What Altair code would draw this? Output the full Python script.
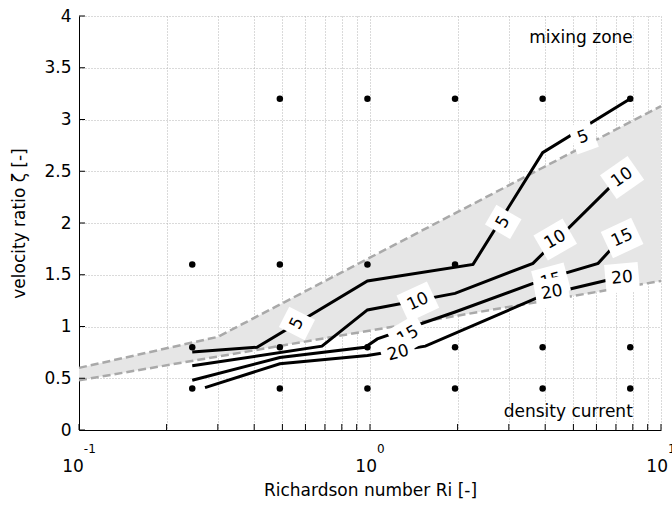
import altair as alt
import pandas as pd

FONT = "DejaVu Sans"
W, H = 582, 414

# simulation grid points
dot_ri = [0.49, 0.98, 1.96, 3.92, 7.84,
          0.245, 0.49, 0.98, 1.96,
          0.245, 0.49, 0.98, 1.96, 3.92, 7.84,
          0.245, 0.49, 0.98, 1.96, 3.92, 7.84]
dot_zeta = [3.2, 3.2, 3.2, 3.2, 3.2,
            1.6, 1.6, 1.6, 1.6,
            0.8, 0.8, 0.8, 0.8, 0.8, 0.8,
            0.4, 0.4, 0.4, 0.4, 0.4, 0.4]

# transition band (shaded, dashed edges)
band_ri = [0.1, 0.3, 10]
band_lower = [0.48, 0.71, 1.44]
band_upper = [0.6, 0.9, 3.13]

# contour lines
c5_ri = [0.245, 0.409, 0.98, 2.26, 3.92, 7.84]
c5_zeta = [0.754, 0.80, 1.44, 1.60, 2.68, 3.20]
c10_ri = [0.245, 0.684, 0.98, 1.96, 3.63, 7.84]
c10_zeta = [0.62, 0.81, 1.16, 1.32, 1.61, 2.54]
c15_ri = [0.245, 0.49, 0.962, 1.06, 1.96, 3.92, 6.08, 7.84]
c15_zeta = [0.48, 0.70, 0.80, 0.88, 1.14, 1.45, 1.61, 1.95]
c20_ri = [0.271, 0.49, 0.98, 1.55, 3.92, 7.84]
c20_zeta = [0.41, 0.64, 0.72, 0.81, 1.30, 1.50]
contours = {"5": (c5_ri, c5_zeta), "10": (c10_ri, c10_zeta),
            "15": (c15_ri, c15_zeta), "20": (c20_ri, c20_zeta)}

# contour labels
lab_text = ["5", "5", "5", "10", "10", "10", "15", "15", "15", "20", "20", "20"]
lab_ri = [5.40, 2.87, 0.561, 7.35, 4.33, 1.46, 7.35, 4.19, 1.35, 7.35, 4.22, 1.25]
lab_zeta = [2.83, 2.01, 1.03, 2.44, 1.84, 1.24, 1.855, 1.44, 0.915, 1.47, 1.33, 0.744]
lab_angle = [340, 300, 297, 325, 330, 335, 335, 345, 330, 355, 350, 345]
lab_tier = [1, 1, 1, 1, 1, 1, 1, 1, 1, 1, 2, 2]

# axes
x_vals = [0.1, 0.2, 0.3, 0.4, 0.5, 0.6, 0.7, 0.8, 0.9,
          1, 2, 3, 4, 5, 6, 7, 8, 9, 10]
y_vals = [0, 0.5, 1, 1.5, 2, 2.5, 3, 3.5, 4]
x_major = [0.1, 1, 10]
x_exp = ["-1", "0", "1"]

annot_text = ["mixing zone", "density current"]
annot_ri = [8, 8]
annot_zeta = [3.74, 0.13]

xs = alt.Scale(type="log", domain=[0.1, 10], nice=False)
ys = alt.Scale(domain=[0, 4], nice=False)
GRID = dict(grid=True, gridColor="#b5b5b5", gridDash=[1, 2], gridWidth=1,
            ticks=False, tickSize=0, domain=True, domainColor="#000000",
            domainWidth=1)
x_axis = alt.Axis(values=x_vals, labels=False,
                  title="Richardson number Ri [-]", titleFont=FONT, titleFontSize=17,
                  titleFontWeight="normal", titleColor="#000000",
                  titleBaseline="alphabetic", titleY=65, **GRID)
y_axis = alt.Axis(values=y_vals, labelExpr="'' + datum.value", labelFont=FONT,
                  labelFontSize=17, labelColor="#000000", labelPadding=8,
                  labelFlush=False, labelOverlap=False,
                  title="velocity ratio ζ [-]", titleFont=FONT, titleFontSize=17,
                  titleFontWeight="normal", titleColor="#000000", titleAngle=270,
                  titleX=-55, titleY=207, titleAlign="center",
                  titleBaseline="alphabetic", **GRID)

X = lambda f: alt.X(f, type="quantitative", scale=xs, axis=x_axis)
Y = lambda f: alt.Y(f, type="quantitative", scale=ys, axis=y_axis)

band_df = pd.DataFrame({"ri": band_ri, "lo": band_lower, "hi": band_upper})
band = alt.Chart(band_df).mark_area(color="#e6e6e6", opacity=1).encode(
    x=X("ri"), y=Y("lo"), y2="hi")

edge_df = pd.DataFrame({
    "ri": band_ri + band_ri,
    "zeta": band_lower + band_upper,
    "edge": ["lower"] * len(band_ri) + ["upper"] * len(band_ri),
})
edges = alt.Chart(edge_df).mark_line(color="#a9a9a9", strokeWidth=2.5,
                                     strokeDash=[8, 4]).encode(
    x=X("ri"), y=Y("zeta"), detail="edge:N")

dot_df = pd.DataFrame({"ri": dot_ri, "zeta": dot_zeta})
dots = alt.Chart(dot_df).mark_circle(size=42, color="#000000", opacity=1).encode(
    x=X("ri"), y=Y("zeta"))

rows = []
for lev, (rr, zz) in contours.items():
    for i, (r, z) in enumerate(zip(rr, zz)):
        rows.append({"level": lev, "ri": r, "zeta": z, "o": i})
cont_df = pd.DataFrame(rows)
lines = alt.Chart(cont_df).mark_line(color="#000000", strokeWidth=3).encode(
    x=X("ri"), y=Y("zeta"), detail="level:N", order="o:Q")

tick_df = pd.DataFrame({"v": x_vals})
bticks = alt.Chart(tick_df).mark_rule(color="#000000", strokeWidth=1).encode(
    x=X("v"), y=alt.value(H), y2=alt.value(H - 6))
ytick_df = pd.DataFrame({"v": y_vals})
lticks = alt.Chart(ytick_df).mark_rule(color="#000000", strokeWidth=1).encode(
    y=Y("v"), x=alt.value(0), x2=alt.value(6))


def box_shape(txt):
    w = 10.8 * len(txt) + 12.0
    h = 29.0
    s = max(w, h)
    a, b = w / s, h / s
    return f"M{-a:.3f},{-b:.3f}H{a:.3f}V{b:.3f}H{-a:.3f}Z", s * s


shapes = [box_shape(t) for t in lab_text]
lab_df = pd.DataFrame({
    "txt": lab_text, "ri": lab_ri, "zeta": lab_zeta, "ang": lab_angle,
    "tier": lab_tier,
    "shape": [s[0] for s in shapes], "bsize": [s[1] for s in shapes],
})

label_layers = []
for tier in (1, 2):
    base = alt.Chart(lab_df).transform_filter(alt.datum.tier == tier)
    boxes = base.mark_point(filled=True, color="#ffffff", opacity=1,
                            strokeWidth=0).encode(
        x=X("ri"), y=Y("zeta"),
        shape=alt.Shape("shape:N", scale=None),
        size=alt.Size("bsize:Q", scale=None),
        angle=alt.Angle("ang:Q", scale=None))
    texts = base.mark_text(font=FONT, fontSize=17, color="#000000",
                           align="center", baseline="middle").encode(
        x=X("ri"), y=Y("zeta"), text="txt:N",
        angle=alt.Angle("ang:Q", scale=None))
    label_layers += [boxes, texts]

ann_df = pd.DataFrame({"t": annot_text, "ri": annot_ri, "zeta": annot_zeta})
ann = alt.Chart(ann_df).mark_text(font=FONT, fontSize=17, color="#000000",
                                  align="right", baseline="alphabetic").encode(
    x=X("ri"), y=Y("zeta"), text="t:N")


def tw(s, fs):
    widths = {"-": 0.361}
    return sum(widths.get(c, 0.636) for c in s) * fs


xlab_layers = []
for v, e in zip(x_major, x_exp):
    off = (tw("10", 17) - tw(e, 12)) / 2
    d = pd.DataFrame({"v": [v], "b": ["10"], "e": [e]})
    xlab_layers.append(alt.Chart(d).mark_text(
        font=FONT, fontSize=17, color="#000000", align="right",
        baseline="alphabetic", dx=off).encode(
        x=X("v"), y=alt.value(H + 42), text="b:N"))
    xlab_layers.append(alt.Chart(d).mark_text(
        font=FONT, fontSize=12, color="#000000", align="left",
        baseline="alphabetic", dx=off).encode(
        x=X("v"), y=alt.value(H + 23), text="e:N"))

chart = alt.layer(
    band, edges, dots, lines, bticks, lticks, *label_layers, ann, *xlab_layers
).properties(
    width=W, height=H,
    autosize=alt.AutoSizeParams(type="none"),
    padding={"left": 79, "top": 16, "right": 11, "bottom": 78},
    background="#ffffff",
).configure_view(strokeWidth=0)

chart.save("out.html", embed_options={"renderer": "svg", "actions": False})
